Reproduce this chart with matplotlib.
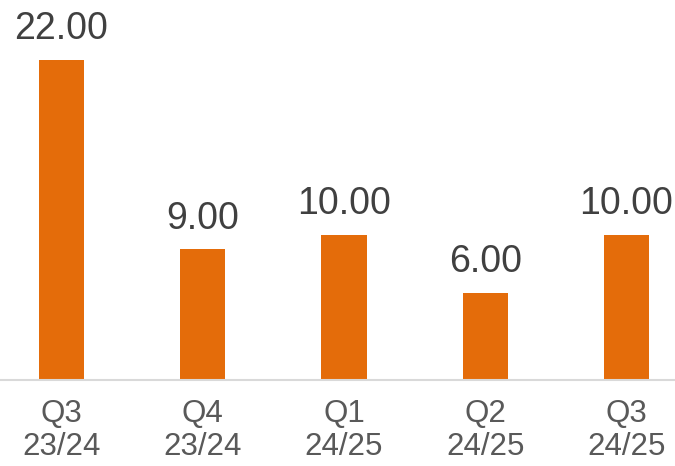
import matplotlib
matplotlib.use("Agg")
import matplotlib.pyplot as plt

categories = ["Q3\n23/24", "Q4\n23/24", "Q1\n24/25", "Q2\n24/25", "Q3\n24/25"]
values = [22.00, 9.00, 10.00, 6.00, 10.00]

W, H = 675, 466
fig = plt.figure(figsize=(W / 100, H / 100), dpi=100)
ax = fig.add_axes([0, (H - 380) / H, 1, 380 / H])

x = list(range(len(categories)))
ax.bar(x, values, width=0.32, color="#E46C0A", zorder=2)

spacing = 141.25
ax.set_xlim(-61.5 / spacing, (W - 61.5) / spacing)
ax.set_ylim(0, 380 / 14.55)

for xi, v in zip(x, values):
    ax.annotate(f"{v:.2f}", (xi, v), xytext=(0, 9), textcoords="offset points",
                ha="center", va="bottom", fontsize=27, color="#404040",
                family="Liberation Sans")

ax.set_xticks(x)
ax.set_xticklabels(categories, fontsize=22.5, color="#595959", family="Liberation Sans",
                   linespacing=1.1)
ax.tick_params(axis="x", length=0, pad=14)
ax.set_yticks([])
for s in ["top", "right", "left"]:
    ax.spines[s].set_visible(False)
ax.spines["bottom"].set_color("#D9D9D9")
ax.spines["bottom"].set_linewidth(1.5)

fig.savefig("out.png", dpi=100)
